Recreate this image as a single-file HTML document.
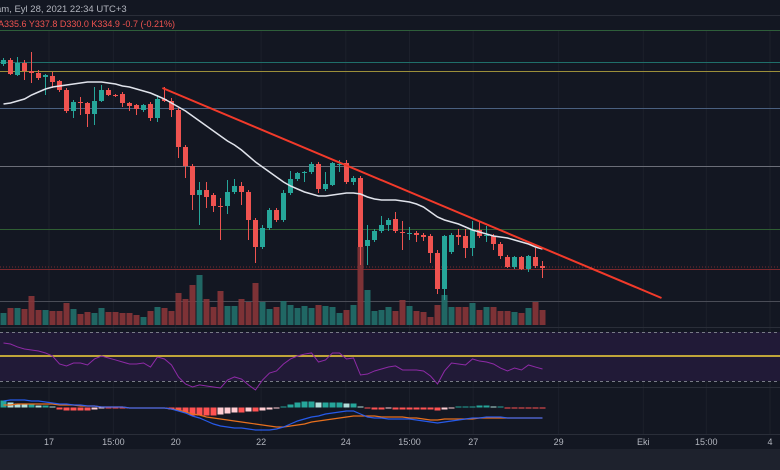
<!DOCTYPE html>
<html><head><meta charset="utf-8"><style>
html,body{margin:0;padding:0;background:#131722;width:780px;height:470px;overflow:hidden}
svg{display:block}
text{font-family:"Liberation Sans",sans-serif}
</style></head><body>
<svg id="chart" width="780" height="470" viewBox="0 0 780 470" xmlns="http://www.w3.org/2000/svg">
<rect x="0" y="0" width="780" height="470" fill="#131722"/>
<rect x="0" y="449" width="780" height="21" fill="#1e222d"/>
<text x="-4" y="12" font-size="9.5" fill="#b2b5be">am, Eyl 28, 2021 22:34 UTC+3</text>
<line x1="0" y1="15.5" x2="780" y2="15.5" stroke="#2a2e39"/>
<text x="-2" y="27" font-size="9" fill="#ef5350">A335.6 Y337.8 D330.0 K334.9 -0.7 (-0.21%)</text>
<g id="grid"></g><g id="hlines"></g><g id="vol"></g><g id="candles"></g><g id="ma"></g><g id="trend"></g><g id="rsi"></g><g id="macd"></g><g id="axis"></g>
</svg>
<script>
const opens=[416,420,405,417,409,407,403,404,399,390,369,378,377,366,379,390,385,386,377,375,370,376,362,381,379,370,333,314,285,290,285,274,274,288,294,288,260,233,252,270,260,287,301,307,308,316,291,295,315,317,298,302,234,240,249,255,261,248,246,247,245,244,227,191,228,245,244,232,250,244,244,236,223,213,223,211,223,214];
const closes=[420,406,417,409,407,402,405,398,390,369,378,377,366,379,390,385,384,377,374,371,375,362,381,379,370,333,314,285,290,283,274,273,288,294,288,260,233,252,270,260,287,301,307,308,316,291,296,317,316,298,302,233,240,249,255,260,249,247,247,245,243,227,191,244,245,243,232,250,244,245,236,224,213,223,211,224,214,212];
const highs=[422,422,423,420,428,410,406,408,400,392,380,383,378,393,395,392,386,388,378,376,376,378,385,393,382,372,335,316,298,298,287,282,300,301,298,290,262,255,272,272,290,309,308,309,318,318,308,318,320,320,304,304,255,251,264,262,268,259,253,249,247,246,230,245,247,251,251,259,258,254,246,238,225,224,224,225,232,219];
const lows=[414,405,404,400,397,400,385,392,388,367,362,365,353,355,378,384,383,373,369,365,368,359,358,378,363,322,302,270,255,272,268,240,266,286,275,240,217,231,250,258,258,285,299,298,306,287,289,294,308,296,295,215,215,238,247,249,247,230,240,238,239,217,186,180,226,235,222,224,242,238,230,221,212,211,210,208,212,202];
const volumes=[12,17,17,16,29,15,15,14,14,22,16,11,13,12,17,13,13,12,12,10,8,14,18,17,14,32,26,40,50,26,18,34,19,19,26,23,42,23,16,18,24,20,17,19,17,20,19,18,12,15,20,78,35,14,15,18,14,25,19,14,13,8,20,30,18,18,18,22,15,18,18,14,14,13,12,17,23,15];
const maVals=[376,377,379,381,385,388,391,393,394,395,396,397,398,398,398,397,396,394,393,391,389,387,384,381,377,373,369,364,359,354,349,344,339,335,330,324,318,313,308,303,298,294,291,288,286,284,284,285,286,287,287,286,283,281,280,280,280,279,278,276,273,268,263,260,258,256,253,250,248,246,244,243,242,240,238,236,233,231];
const rsiVals=[61.4,60.6,58.2,56.5,55.7,54.9,53.3,50.8,44.3,42.7,45.1,45.1,43.5,48.4,50.8,49.2,47.6,45.9,44.3,44.3,45.1,41.8,50,48.4,43.5,33.7,28,25.5,27.2,26.3,25.5,24.7,31.2,33.7,32,27.2,23.1,31.2,36.9,38.6,44.3,48.4,50.8,52.4,53.3,45.9,47.6,53.3,53.3,48.4,49.2,35.3,36.1,38.6,40.2,41.8,42.7,39.4,39.4,39.4,38.6,34.5,28,38.6,45.1,44.3,43.5,48.4,46.7,45.9,44.3,41,38.6,41,39.4,43.5,41.8,40.2];
const macdVals=[7,8,8,8,7,7,6,5,4,4,3,3,2,2,1,1,1,1,0,0,0,0,0,0,-1,-3,-5,-8,-10,-13,-16,-18,-19,-20,-20,-21,-22,-22,-22,-21,-19,-16,-13,-11,-9,-8,-6,-5,-4,-3,-3,-6,-9,-10,-10,-11,-11,-11,-11,-12,-13,-14,-15,-14,-13,-12,-11,-10,-10,-9,-9,-9,-10,-10,-10,-10,-10,-10];
const signalVals=[3,3,4,4,4,4,4,4,3,3,3,2,2,2,1,1,1,1,0,0,0,0,0,0,-1,-2,-4,-6,-7,-9,-10,-11,-12,-13,-14,-15,-16,-17,-18,-19,-19,-18,-17,-16,-14,-13,-12,-11,-10,-9,-8,-8,-8,-8,-9,-9,-9,-9,-10,-10,-11,-12,-12,-11,-11,-11,-11,-11,-10,-10,-10,-10,-10,-10,-10,-10,-10,-10];
const histVals=[7,5,4,3,3,2,2,1,-2,-3,-3,-3,-3,-2,-1,-1,-1,-1,-1,-1,-1,-1,-1,-1,-2,-3,-5,-8,-8,-8,-8,-7,-6,-5,-5,-4,-4,-3,-2,-1,1,3,5,6,6,5,5,5,5,4,4,1,-1,-2,-2,-1,-2,-2,-2,-2,-2,-2,-3,-2,-1,1,1,1,2,2,1,1,-1,-1,-1,-1,-1,-1];
const levelPrices=[450,418,409,372,314,251,211];
const levelColors=["#2e5e3a","#1f6f6a","#9c8f3a","#4a6080","#6b6e78","#2f5e33","#7a2a2e"];
const trendStart=[22.7,392];const trendEnd=[94,182];
const timeLabels=["17","15:00","20","22","24","15:00","27","29","Eki","15:00","4"];
const timeIdx=[6.5,15.7,24.6,36.8,48.9,58,67.1,79.3,91.4,100.4,109.5];

const NS="http://www.w3.org/2000/svg";
const xS=i=>3.5+7*i;
const yP=p=>480-p;
const yV=v=>325-v;
const yR=r=>357-(r-50)*1.225;
const yM=v=>408-v;
const yH=v=>407.5-v;
function mk(tag,parent,attrs){const e=document.createElementNS(NS,tag);for(const k in attrs)e.setAttribute(k,attrs[k]);document.getElementById(parent).appendChild(e);return e;}

// grid
timeIdx.forEach((t,i)=>{const l=mk('line','grid',{x1:xS(t),x2:xS(t),y1:30,y2:434,stroke:'#1c202b'});

});
// panes
let r=mk('rect','grid',{x:0,y:332,width:780,height:49,fill:'#211a37'});


[[327,'#2a2e39'],[387,'#2a2e39'],[434,'#2a2e39']].forEach(a=>{const l=mk('line','grid',{x1:0,x2:780,y1:a[0]+.5,y2:a[0]+.5,stroke:a[1]});

});
[332,381].forEach(y=>{const l=mk('line','grid',{x1:0,x2:780,y1:y+.5,y2:y+.5,stroke:'#787b86','stroke-dasharray':'3 3'});

});
let yl=mk('line','grid',{x1:0,x2:780,y1:356,y2:356,stroke:'#f5d33a','stroke-width':1.5});


// horizontal levels
levelPrices.forEach((p,i)=>{const l=mk('line','hlines',{x1:0,x2:780,y1:yP(p)+.5,y2:yP(p)+.5,stroke:levelColors[i],'stroke-width':1});

});
let dl=mk('line','hlines',{x1:0,x2:780,y1:267,y2:267,stroke:'#7a2a2e','stroke-dasharray':'1 2'});


let gl=mk('line','hlines',{x1:0,x2:780,y1:301.5,y2:301.5,stroke:'#4a4d57'});


// volume + candles
opens.forEach((o,i)=>{
 const c=closes[i],up=c>=o,x=xS(i);
 const vb=mk('rect','vol',{x:x-3,y:yV(volumes[i]),width:6,height:volumes[i],fill:up?'#22706b':'#8a3538',opacity:.9});
 
 
 const col=up?'#26a69a':'#ef5350';
 const w=mk('line','candles',{x1:x,x2:x,y1:yP(highs[i]),y2:yP(lows[i]),stroke:col});
 
 
 const top=yP(Math.max(o,c)),h=Math.max(1,Math.abs(o-c));
 const b=mk('rect','candles',{x:x-2.5,y:top,width:5,height:h,fill:col});
 
 
});
// MA
let ma=mk('polyline','ma',{points:maVals.map((v,i)=>xS(i)+','+yP(v)).join(' '),fill:'none',stroke:'#e0e3eb','stroke-width':1.5});


// trend
let tl=mk('line','trend',{x1:xS(trendStart[0]),y1:yP(trendStart[1]),x2:xS(trendEnd[0]),y2:yP(trendEnd[1]),stroke:'#f23a2a','stroke-width':2});


// RSI
let rl=mk('polyline','rsi',{points:rsiVals.map((v,i)=>xS(i)+','+yR(v)).join(' '),fill:'none',stroke:'#8e2aa6','stroke-width':1});


// MACD hist
histVals.forEach((v,i)=>{
 const prev=i?histVals[i-1]:v;
 const col=v>=0?(v>=prev?'#26a69a':'#b2dfdb'):(v<=prev?'#ff5252':'#ffcdd2');
 const hb=mk('rect','macd',{x:xS(i)-3,y:Math.min(yH(v),yH(0)),width:6,height:Math.max(1,Math.abs(v)),fill:col});
 
 
});
let sl=mk('polyline','macd',{points:signalVals.map((v,i)=>xS(i)+','+yM(v)).join(' '),fill:'none',stroke:'#e8701e','stroke-width':1.2});


let ml=mk('polyline','macd',{points:macdVals.map((v,i)=>xS(i)+','+yM(v)).join(' '),fill:'none',stroke:'#2962ff','stroke-width':1.2,opacity:.9});


// time axis
timeLabels.forEach((t,i)=>{const tx=mk('text','axis',{x:xS(timeIdx[i]),y:445,'font-size':9,fill:'#b2b5be','text-anchor':'middle'});
tx.textContent=t;

});
</script>
</body></html>
